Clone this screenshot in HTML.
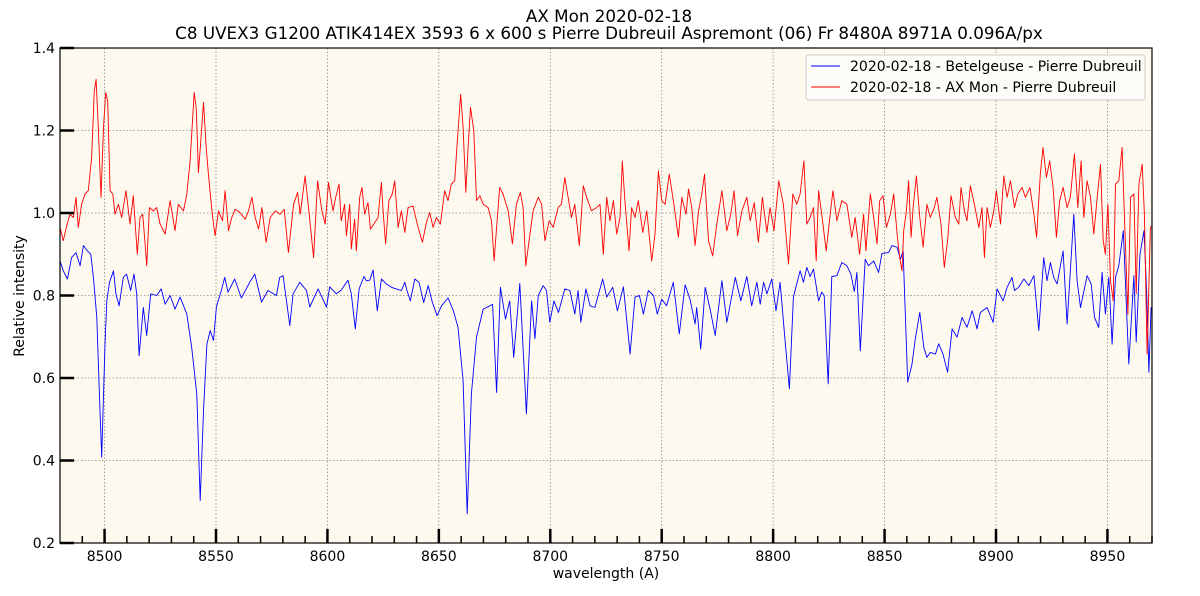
<!DOCTYPE html>
<html><head><meta charset="utf-8"><style>
body{margin:0;background:#fff;}
svg{display:block;font-family:"DejaVu Sans","Liberation Sans",sans-serif;}
</style></head><body>
<svg id="chart" width="1200" height="596" viewBox="0 0 1200 596">
<text x="609" y="22" font-size="16.75" text-anchor="middle">AX Mon 2020-02-18</text>
<text x="609" y="39" font-size="16.75" text-anchor="middle">C8 UVEX3 G1200 ATIK414EX 3593 6 x 600 s Pierre Dubreuil Aspremont (06) Fr 8480A 8971A 0.096A/px</text>
<defs><clipPath id="clip"><rect x="60" y="48" width="1092" height="495"/></clipPath></defs>
<rect x="60" y="48" width="1092" height="495" fill="#fdf9ee"/>
<g id="grid"></g>
<g id="series" clip-path="url(#clip)"></g>
<rect x="60" y="48" width="1092" height="495" fill="none" stroke="#000" stroke-width="1.2"/>
<g id="axes"></g>
<text x="606" y="578" font-size="14" text-anchor="middle">wavelength (A)</text>
<text x="24" y="296" font-size="14" text-anchor="middle" transform="rotate(-90 24 296)">Relative intensity</text>
<g>
<rect x="806" y="55" width="339" height="45" rx="3" fill="#fdfcf8" stroke="#ccc" stroke-width="1"/>
<line x1="811" y1="66" x2="840" y2="66" stroke="#0000ff" stroke-width="1"/>
<text x="850" y="71" font-size="14">2020-02-18 - Betelgeuse - Pierre Dubreuil</text>
<line x1="811" y1="87" x2="840" y2="87" stroke="#ff0000" stroke-width="1"/>
<text x="850" y="92" font-size="14">2020-02-18 - AX Mon - Pierre Dubreuil</text>
</g>
</svg>
<script>
const xTicks = [8500,8550,8600,8650,8700,8750,8800,8850,8900,8950];
const yTicks = [0.2,0.4,0.6,0.8,1.0,1.2,1.4];
const yTickLabels = ["0.2","0.4","0.6","0.8","1.0","1.2","1.4"];
const blueWl = [8480,8481.5,8483.3,8485.2,8487.2,8489,8490.5,8492.3,8493.8,8495,8496.5,8497.7,8498.7,8500.2,8501,8502.2,8504,8505.1,8506.5,8508.4,8509.9,8511.7,8513.2,8514.4,8515.5,8517.4,8518.9,8520.7,8523.4,8525.4,8527.2,8529.4,8531.6,8533.9,8536.9,8539.1,8541.4,8542.9,8544.4,8545.9,8547.4,8548.9,8550.2,8552.4,8553.9,8555.4,8558.4,8561.4,8565.1,8567.4,8570.4,8573.3,8577.1,8578.6,8580.1,8583.1,8584.6,8587.6,8590.6,8592.1,8595.8,8599.6,
8601,8604,8606.2,8609.2,8610.7,8612.5,8614.2,8616.4,8617.5,8619,8620.5,8622.4,8624.2,8626.4,8628.7,8630.9,8633.2,8634.7,8635.7,8637.2,8639.2,8641.1,8643.2,8645.2,8647.1,8649.2,8651.2,8654.1,8656.4,8658.6,8660.9,8662.7,8664.6,8666.9,8669.9,8672.9,8674.1,8675.9,8677.6,8679.9,8681.8,8683.6,8686.3,8689.3,8691.6,8693.1,8694.6,8696.8,8698.3,8699.8,8701.6,8703.7,8706.5,8708.8,8711,8712.5,8713.7,8716,8717.8,8720,
8723.5,8725.3,8728,8730.1,8732.8,8735.8,8738,8740,8741.8,8744,8746.3,8748,8750,8752.2,8755.2,8757.9,8760.5,8762.7,8765,8765.7,8767.5,8769.5,8771.7,8774,8777,8779.2,8783,8785.5,8788.2,8790.4,8792.7,8794.2,8795.7,8797.2,8799.4,8801.3,8803.1,8805.4,8807.3,8809.1,8812.1,8813.6,8815.1,8816.6,8818.1,8820.4,8821.8,8822.9,8824.7,8826.3,8828.6,8830.8,8833.1,8834.9,8836.4,8837.6,8839.1,8841.3,8842.8,
8845.1,8847.3,8848.8,8851.8,8853.3,8855.6,8857.1,8858.3,8860.4,8862.3,8863.8,8865.8,8867.6,8869,8870.5,8872.8,8874.3,8876.2,8878.3,8880.3,8882.5,8884.8,8887,8889.3,8891.5,8893,8896,8898.7,8900.5,8903.2,8905,8907.2,8908.3,8910.2,8912.5,8914.7,8917,8919.2,8921.4,8922.9,8924.4,8925.9,8927.4,8930.1,8931.9,8934.9,8936.4,8937.9,8940.9,8942.7,8944.2,8946.1,8947.6,8949.1,8950.6,8952.1,8953.6,8955.1,8957.1,8959.6,8961.9,8962.9,8964.6,8966.4,8967.6,8968.6,8969.6,8970.7];
const blueVal = [0.884,0.86,0.84,0.892,0.904,0.872,0.921,0.908,0.9,0.844,0.747,0.561,0.408,0.682,0.787,0.832,0.86,0.804,0.775,0.844,0.852,0.812,0.852,0.804,0.654,0.771,0.703,0.804,0.8,0.816,0.779,0.8,0.767,0.796,0.755,0.674,0.561,0.303,0.521,0.682,0.715,0.691,0.772,0.812,0.844,0.808,0.84,0.794,0.832,0.852,0.784,0.812,0.8,0.844,0.848,0.727,0.804,0.832,0.812,0.772,0.816,0.772,
0.821,0.804,0.813,0.837,0.804,0.719,0.816,0.846,0.836,0.837,0.862,0.763,0.84,0.828,0.82,0.816,0.812,0.832,0.812,0.787,0.84,0.832,0.783,0.824,0.783,0.751,0.775,0.794,0.765,0.723,0.594,0.271,0.562,0.699,0.767,0.775,0.779,0.565,0.82,0.743,0.787,0.65,0.829,0.513,0.787,0.695,0.8,0.824,0.812,0.735,0.787,0.759,0.816,0.812,0.755,0.812,0.735,0.816,0.775,0.771,
0.84,0.796,0.82,0.763,0.821,0.658,0.796,0.8,0.755,0.812,0.8,0.755,0.791,0.775,0.832,0.707,0.826,0.791,0.731,0.771,0.67,0.82,0.767,0.703,0.836,0.735,0.844,0.787,0.846,0.775,0.832,0.779,0.832,0.804,0.84,0.763,0.832,0.687,0.574,0.796,0.86,0.832,0.868,0.846,0.864,0.787,0.808,0.8,0.586,0.846,0.848,0.88,0.872,0.852,0.81,0.856,0.666,0.888,0.872,
0.884,0.856,0.902,0.904,0.921,0.917,0.888,0.908,0.59,0.634,0.695,0.759,0.674,0.65,0.662,0.658,0.683,0.658,0.614,0.719,0.699,0.747,0.723,0.763,0.719,0.759,0.771,0.735,0.816,0.787,0.82,0.844,0.812,0.82,0.84,0.824,0.848,0.715,0.892,0.836,0.88,0.844,0.828,0.908,0.731,0.997,0.836,0.771,0.848,0.828,0.747,0.723,0.856,0.755,0.844,0.682,0.844,0.872,0.957,0.634,0.848,0.687,0.9,0.957,0.804,0.614,0.771,0.763];
const redWl = [8480,8481.5,8483,8484.5,8486,8487.2,8488.2,8489.7,8491.2,8492.7,8494.2,8495.4,8496.2,8497.2,8498.4,8499.5,8500.5,8501.4,8502.5,8503.7,8504.7,8506.2,8507.7,8509.6,8511.4,8512.9,8514.7,8515.9,8517.1,8518.2,8518.9,8520.1,8521.9,8523.4,8524.9,8527.2,8529.4,8531.6,8533.1,8535.4,8536.9,8538.4,8540.2,8541.1,8542.1,8543.2,8544.4,8545.6,8546.6,8547.7,8548.9,8549.6,8551.1,8552.9,8554.1,8555.6,8557.1,8558.6,8560.8,8563.1,8564.6,8566.1,8567.6,8569.1,8570.6,8572.5,8574.3,8576.6,8578.8,8580.6,8582.5,8584.8,8586.6,8587.8,8590,8591.5,8593.8,8595.6,8597.5,8599,8600.5,
8602.5,8603.7,8605.2,8606.2,8607.7,8608.5,8610,8610.7,8612.2,8613,8614.5,8615.5,8616.7,8618.2,8619.3,8620.8,8622.7,8624.2,8625,8626.1,8627.6,8629.1,8630.2,8631.7,8633.2,8634.7,8636.2,8638.4,8640.7,8642.6,8644.4,8645.9,8647.4,8648.9,8650.7,8652.6,8654.1,8655.6,8657.1,8658.2,8659.8,8660.9,8662.1,8663.1,8664.2,8665.7,8666.9,8668.4,8669.9,8672.1,8673.6,8674.8,8675.9,8677.3,8678.8,8681.1,8683,8684.8,8686.6,8687.8,8689,8690.5,8692.3,8694.6,8696.1,8697.6,8699.5,8701.3,8703.5,8705,8706.5,8708,8709.5,8711,8713,8714.8,8716.3,8718.5,8720.8,
8722.3,8723.8,8725.3,8726.8,8728.3,8729.8,8731.3,8732.3,8733.5,8735.3,8736.5,8738,8739.5,8741.5,8743.3,8745.5,8747,8748.5,8750,8751.5,8753.4,8755.2,8757.5,8759,8760.9,8762,8763.5,8765,8766.5,8768,8769.2,8771,8772.9,8774.7,8777,8779.2,8781,8782.5,8784,8786,8788.2,8789.7,8791.5,8793.4,8795.2,8797.2,8798.6,8800.4,8802.5,8804.6,8806.9,8808.8,8810.6,8812.1,8813.8,8815.1,8816.6,8818.1,8819.3,8820.4,8821.8,8823.8,8825.6,8826.8,8828.6,8830.8,8833.1,8835.3,8836.8,8838.8,8840.6,8841.6,
8843.6,8845.1,8846.6,8847.8,8849.3,8850.8,8852.6,8854.1,8855.6,8856.8,8857.8,8858.6,8859.8,8860.8,8861.9,8862.8,8864.3,8865.8,8867.3,8869,8870.5,8872.3,8873.5,8875.3,8876.8,8878.3,8879.8,8881.8,8883.3,8884.3,8885.8,8887,8888.5,8890.3,8892.3,8893.7,8894.8,8896,8897.5,8899,8900.2,8902,8903.5,8905,8906.5,8908.3,8909.8,8911.7,8913.2,8915.2,8917,8918.2,8919.9,8921.1,8922.6,8924.1,8925.6,8927.1,8928.6,8930.1,8931.9,8933.4,8935.2,8936.7,8938.2,8939.4,8940.9,8942.4,8943.9,8945.4,8946.9,8948.1,8949.1,8950.2,8951.4,8952.6,8953.6,8955.1,8956.6,8957.8,8959.2,8960.4,8961.9,8962.9,8964.1,8965.6,8966.6,8967.8,8969.3,8970.7];
const redVal = [0.965,0.933,0.969,0.997,0.989,1.038,0.965,1.021,1.046,1.054,1.134,1.296,1.324,1.207,1.038,1.207,1.292,1.272,1.054,1.046,0.997,1.021,0.989,1.054,0.973,1.042,0.9,0.989,0.997,0.925,0.872,1.013,1.005,1.013,0.973,0.949,1.03,0.957,1.021,1.005,1.046,1.126,1.292,1.255,1.098,1.175,1.268,1.159,1.094,1.03,0.973,0.945,1.005,0.981,1.054,0.957,0.989,1.009,1.001,0.985,1.005,1.038,0.989,0.961,1.013,0.929,0.989,1.005,0.997,1.009,0.904,1.021,1.05,0.997,1.09,1.013,0.892,1.078,1.005,0.973,1.074,
1.005,1.038,1.07,0.981,1.021,0.945,1.021,0.913,0.985,0.908,1.038,1.062,0.997,1.025,0.961,0.973,0.989,1.074,1.005,0.925,1.03,1.046,1.078,0.965,1.005,0.953,1.013,1.017,0.965,0.929,0.977,1.001,0.965,0.989,0.973,1.054,1.03,1.07,1.078,1.167,1.288,1.207,1.05,1.159,1.256,1.199,1.03,1.042,1.021,1.013,0.981,0.884,0.965,1.062,1.046,1.005,0.925,1.021,1.05,1.013,0.872,0.933,1.005,1.038,1.021,0.933,0.981,0.965,1.013,1.021,1.086,1.038,0.989,1.021,0.921,1.066,1.038,1.005,1.013,
1.021,0.9,1.038,0.981,1.03,0.949,0.989,1.126,1.03,0.908,1.013,0.989,1.03,0.953,1.005,0.884,0.949,1.102,1.03,1.021,1.094,1.03,0.941,1.038,0.997,1.058,1.013,0.921,1.005,1.046,1.094,0.933,0.896,0.973,1.054,0.957,0.997,1.054,0.945,1.005,1.038,0.981,1.025,0.929,1.038,0.953,1.013,0.957,1.078,1.021,0.876,1.046,1.021,1.046,1.126,0.973,0.989,1.013,0.884,1.054,0.997,0.908,0.997,1.054,0.981,1.03,1.021,0.941,0.989,0.9,0.997,0.908,
1.046,0.989,0.925,1.03,1.042,0.965,0.997,1.046,0.949,0.892,0.86,0.957,1.005,1.078,0.941,1.013,1.09,0.989,0.917,1.021,0.989,1.013,1.038,0.973,0.868,0.933,1.042,0.989,0.973,1.062,1.005,0.981,1.066,1.021,0.965,1.013,0.892,1.013,0.965,1.005,1.054,0.973,1.09,1.038,1.078,1.013,1.046,1.062,1.038,1.062,0.997,0.941,1.094,1.159,1.086,1.126,1.062,0.941,1.03,1.062,1.013,1.038,1.143,1.013,1.126,0.989,1.078,1.038,0.949,1.038,1.118,0.933,0.9,1.021,0.836,0.787,1.07,1.078,1.159,0.965,0.755,1.038,1.046,0.804,1.07,1.118,0.997,0.658,0.965,0.973];

const X0=60,X1=1152,Y0=543,Y1=48, WMIN=8480, WMAX=8970, VMIN=0.2, VMAX=1.4;
function xs(w){return X0+(w-WMIN)/(WMAX-WMIN)*(X1-X0);}
function ys(v){return Y0-(v-VMIN)/(VMAX-VMIN)*(Y0-Y1);}
const NS="http://www.w3.org/2000/svg";
const grid=document.getElementById('grid'), axes=document.getElementById('axes'), series=document.getElementById('series');
function mk(tag,attrs,parent){const e=document.createElementNS(NS,tag);for(const k in attrs)e.setAttribute(k,attrs[k]);parent.appendChild(e);return e;}
xTicks.forEach(t=>{
  const x=xs(t);
  const g=mk('line',{x1:x,x2:x,y1:Y1,y2:Y0,stroke:'#888','stroke-width':0.8,'stroke-dasharray':'1.5,2'},grid);
  
  
  const tk=mk('line',{x1:x,x2:x,y1:Y0,y2:Y0-14,stroke:'#000','stroke-width':2.5},axes);
  
  
  const lb=mk('text',{x:x,y:Y0+18,'font-size':14,'text-anchor':'middle'},axes);
  lb.textContent=String(t);
  
  
});
for(let w=8490;w<=8970;w+=10){
  if(w%50===0)continue;
  const x=xs(w);
  const m=mk('line',{x1:x,x2:x,y1:Y0,y2:Y0-7,stroke:'#000','stroke-width':1.5},axes);
  
  
}
yTicks.forEach((t,i)=>{
  const y=ys(t);
  if(i>0&&i<yTicks.length-1){
    const g=mk('line',{x1:X0,x2:X1,y1:y,y2:y,stroke:'#888','stroke-width':0.8,'stroke-dasharray':'1.5,2'},grid);
    
    
  }
  const tk=mk('line',{x1:X0,x2:X0+14,y1:y,y2:y,stroke:'#000','stroke-width':2.5},axes);
  
  
  const lb=mk('text',{x:X0-5,y:y+5,'font-size':14,'text-anchor':'end'},axes);
  lb.textContent=yTickLabels[i];
  
  
});
function draw(wl,val,color,name){
  const d=wl.map((w,i)=>(i?'L':'M')+xs(w).toFixed(1)+','+ys(val[i]).toFixed(1)).join('');
  const p=mk('path',{d:d,fill:'none',stroke:color,'stroke-width':0.9,'stroke-linejoin':'round'},series);
  
  
}
draw(blueWl,blueVal,'#0000ff','betelgeuse-spectrum-line');
draw(redWl,redVal,'#ff0000','axmon-spectrum-line');
</script>
</body></html>
